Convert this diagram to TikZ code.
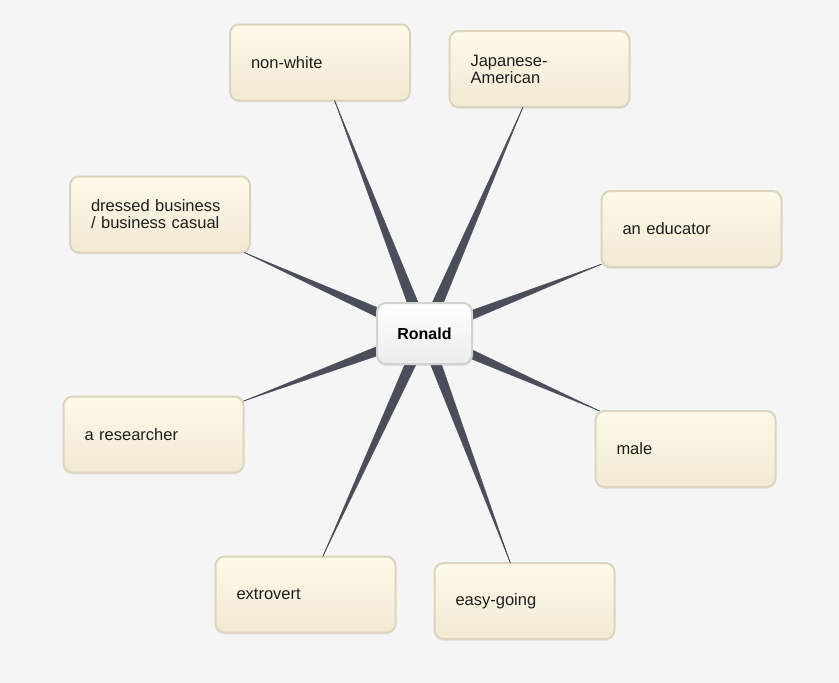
\documentclass[tikz,border=0pt]{standalone}
\usepackage{fontspec}
\setmainfont{Liberation Sans}
\usetikzlibrary{calc,shadows}
\definecolor{bgc}{HTML}{F5F5F5}
\definecolor{boxtop}{HTML}{FEF8E8}
\definecolor{boxbot}{HTML}{F1E9D3}
\definecolor{boxline}{HTML}{DCD5BE}
\definecolor{spokec}{HTML}{4A4E5A}
\definecolor{hubline}{HTML}{D2D2D2}
\definecolor{hubbot}{HTML}{ECECEC}
\definecolor{txt}{HTML}{1E1E1E}
\begin{document}
\begin{tikzpicture}[x=1pt,y=-1pt,
  attr/.style={draw=boxline, line width=2pt, rounded corners=9pt,
    top color=boxtop, middle color=boxtop, bottom color=boxbot,
    minimum height=76pt, text width=138pt, inner xsep=21pt, inner ysep=0pt,
    outer sep=0pt, align=left, text=txt,
    font=\fontsize{16.5}{17}\selectfont,
    drop shadow={shadow xshift=0pt, shadow yshift=-2pt, opacity=0.12}},
  hub/.style={draw=hubline, line width=2pt, rounded corners=9pt,
    top color=white, middle color=white, bottom color=hubbot,
    minimum width=95pt, minimum height=61pt, outer sep=0pt, text=black,
    font=\fontsize{16}{17}\selectfont\bfseries,
    drop shadow={shadow xshift=0pt, shadow yshift=-2pt, opacity=0.15}},
  spoke/.style={fill=spokec, draw=spokec, line width=0.3pt, line join=miter},
  spokeline/.style={draw=spokec, line width=0.7pt}
]
\fill[bgc] (0,0) rectangle (839,683);
\useasboundingbox (0,0) rectangle (839,683);

\coordinate (rc) at (424.5,333.5);

\node[attr] (nw) at (320,62.5) {non-white};
\node[attr] (ja) at (539.5,69) {Japanese-\\American};
\node[attr] (db) at (160,214.5) {dressed business\\/ business casual};
\node[attr] (ed) at (691.5,229) {an educator};
\node[attr] (re) at (153.5,434.5) {a researcher};
\node[attr] (ma) at (685.5,449) {male};
\node[attr] (ex) at (305.5,594.5) {extrovert};
\node[attr] (eg) at (524.5,601) {easy-going};

\foreach \n in {nw,ja,db,ed,re,ma,ex,eg}{
  \path (rc) -- (\n) coordinate[pos=1] (t-\n);
  \draw[spokeline] (rc) -- (t-\n);
  \filldraw[spoke] ($(rc)!6pt!90:(t-\n)$) -- (t-\n) -- ($(rc)!6pt!-90:(t-\n)$) -- cycle;
}

\node[hub] (r) at (rc) {Ronald};
\end{tikzpicture}
\end{document}
